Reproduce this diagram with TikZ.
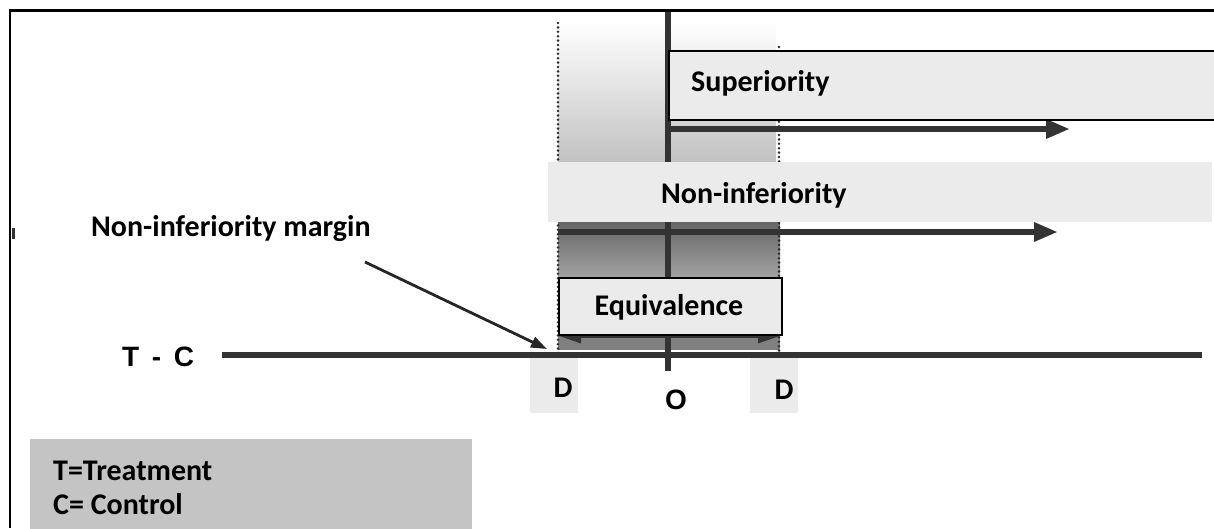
\documentclass[tikz,border=0pt]{standalone}
\usepackage{fontspec}
\setmainfont{Carlito}
\newfontfamily\arialfont{Liberation Sans}
\usetikzlibrary{arrows.meta}
\definecolor{boxfill}{HTML}{EBEBEB}
\definecolor{axisgray}{HTML}{333333}
\definecolor{legendfill}{HTML}{C4C4C4}
\definecolor{dotgray}{HTML}{2A2A2A}
\tikzset{
  lbl/.style={font=\fontsize{30}{36}\selectfont\bfseries, text=black, inner sep=0pt},
  albl/.style={font=\arialfont\fontsize{28}{32}\selectfont\bfseries, text=black, inner sep=0pt},
  boxed/.style={draw=black, line width=2pt, fill=boxfill, inner sep=0pt},
  band/.style={fill=boxfill, draw=none, inner sep=0pt},
  axisline/.style={draw=axisgray, line width=6pt},
  bigarrow/.style={draw=axisgray, line width=6pt, -{Triangle[length=24pt,width=18pt]}},
  dotline/.style={draw=dotgray, line width=2.8pt, line cap=round, dash pattern=on 0pt off 4.4pt},
}
\begin{document}
\begin{tikzpicture}[x=1pt,y=-1pt]
\useasboundingbox (0,0) rectangle (1214,528);
% frame
\draw[line width=2.6pt, black] (1214,10.5) -- (10,10.5) -- (10,528);
\draw[line width=3pt, black!80] (13,228) -- (13,239);
% shaded margin regions
\shade[top color=white, bottom color=black!24] (558,22) rectangle (776,162);
\shade[top color=black!60, bottom color=black!36] (558,222) rectangle (780,278);
\fill[black!50] (558,278) rectangle (780,350);
% dotted margin lines
\draw[dotline] (558,23) -- (558,355);
\draw[dotline] (779,47) -- (779,355);
% vertical zero axis
\coordinate (ztop) at (668,12);
\coordinate (zbot) at (668,371);
\draw[axisgray, line width=5.5pt] (ztop) -- (zbot);
% arrows
\coordinate (supS) at (668,129);
\coordinate (supE) at (1070,129);
\coordinate (niS) at (558,232);
\coordinate (niE) at (1058,232);
\draw[bigarrow] (supS) -- (supE);
\draw[bigarrow] (niS) -- (niE);
% non-inferiority band
\node[band, minimum width=664pt, minimum height=60pt, anchor=north west] (niband) at (548,162) {};
\node[lbl, anchor=base west] (nitext) at (661,203) {Non-inferiority};
% superiority box
\node[boxed, minimum width=560pt, minimum height=69pt, anchor=north west] (supbox) at (668,50) {};
\node[lbl, anchor=base west] (suptext) at (691,91) {Superiority};
% equivalence
\coordinate (eqL) at (559,336);
\coordinate (eqR) at (780,336);
\draw[draw=axisgray, line width=3pt, {Triangle[length=22pt,width=14pt]}-{Triangle[length=22pt,width=14pt]}] (eqL) -- (eqR);
\node[boxed, minimum width=223pt, minimum height=57pt, anchor=north west] (eqbox) at (558,277) {};
\node[lbl] (eqtext) at (669,307) {Equivalence};
% D boxes
\node[band, minimum width=48pt, minimum height=55pt, anchor=north west] (dL) at (530,358) {};
\node[band, minimum width=48pt, minimum height=55pt, anchor=north west] (dR) at (750,358) {};
% T - C axis
\node[albl, anchor=base west] (tc) at (122,366) {T\hspace{0.45em}-\hspace{0.45em}C};
\coordinate (tcS) at (222,355);
\coordinate (tcE) at (1202,355);
\draw[axisline] (tcS) -- (tcE);
\node[lbl, anchor=base] (dLt) at (563,397) {D};
\node[lbl, anchor=base] (dRt) at (784,399) {D};
\node[albl, anchor=base] (zero) at (676,409) {O};
% margin label and arrow
\node[lbl, anchor=base west] (marg) at (91,236) {Non-inferiority margin};
\coordinate (mS) at (365,262);
\coordinate (mE) at (547,349);
\draw[draw=black!85, line width=2.8pt, -{Triangle[length=16pt,width=11pt]}] (mS) -- (mE);
% legend
\node[band, fill=legendfill, minimum width=442pt, minimum height=92pt, anchor=north west] (legend) at (30,439) {};
\node[lbl, anchor=base west] (leg1) at (53,480) {T=Treatment};
\node[lbl, anchor=base west] (leg2) at (53,514) {C= Control};
\end{tikzpicture}
\end{document}
